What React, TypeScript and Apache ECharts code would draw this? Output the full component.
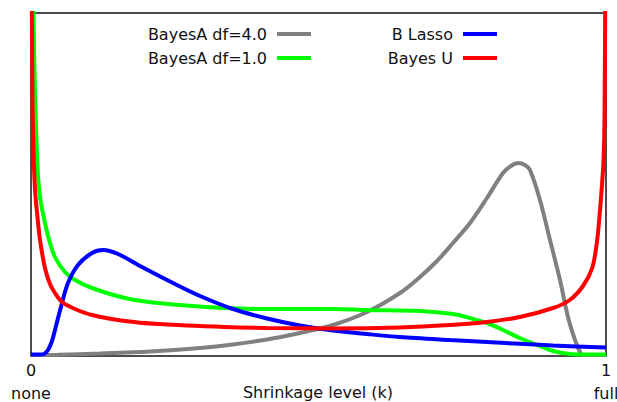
import React, { useEffect, useRef } from 'react';
import * as echarts from 'echarts';

const FONT = "'DejaVu Sans', Verdana, Tahoma, sans-serif";

// x: shrinkage level k (0 = none, 1 = full); y: relative density (arbitrary units)
const seriesNames = ['BayesA df=4.0', 'BayesA df=1.0', 'B Lasso', 'Bayes U'];
const xTickLabels = ['0\nnone', '1\nfull'];
const xAxisName = 'Shrinkage level (k)';

const bayesA4K = [0, 0.047, 0.12, 0.207, 0.294, 0.3513, 0.4104, 0.4678, 0.5252, 0.5843, 0.6417, 0.6765, 0.7061, 0.7339, 0.7635, 0.793, 0.8209, 0.8348, 0.847, 0.8591, 0.8678, 0.8852, 0.9026, 0.92, 0.9339, 0.9461, 0.9548, 0.96, 1];
const bayesA4V = [1, 1.3, 2.5, 4.5, 8, 11.5, 16.5, 23, 31, 44, 63, 79, 95, 113, 133, 158, 183, 190, 193, 191, 186, 156, 116, 76, 39, 16, 4, 1, 1];

const bayesA1K = [0.0026, 0.0043, 0.0061, 0.0078, 0.0101, 0.0127, 0.0165, 0.0214, 0.0301, 0.0417, 0.0591, 0.0765, 0.106, 0.1635, 0.221, 0.337, 0.41, 0.525, 0.584, 0.677, 0.734, 0.763, 0.793, 0.821, 0.85, 0.88, 0.908, 0.937, 0.963, 1];
const bayesA1V = [406, 343, 286, 246, 206, 176, 156, 141, 119, 99, 84, 76, 68, 58, 53, 48, 47, 47, 46, 45, 42, 38, 33, 26, 18, 11, 5, 2, 1.5, 1.5];

const lassoK = [0, 0.0157, 0.0226, 0.0296, 0.0365, 0.0417, 0.0539, 0.0643, 0.0817, 0.106, 0.1252, 0.1513, 0.193, 0.2504, 0.2939, 0.3513, 0.4104, 0.4678, 0.5252, 0.5843, 0.6417, 0.7287, 0.793, 0.9078, 1];
const lassoV = [1.5, 1.5, 2, 6, 15, 26, 53, 73, 91, 103, 106, 102, 89, 72, 60, 47, 37.5, 30.5, 25.5, 22, 19, 16, 14, 10.5, 8.5];

const bayesUK = [0.0009, 0.0026, 0.0043, 0.007, 0.0104, 0.0157, 0.0243, 0.033, 0.0417, 0.0539, 0.0765, 0.106, 0.1635, 0.221, 0.337, 0.41, 0.525, 0.642, 0.729, 0.793, 0.85, 0.908, 0.937, 0.96, 0.976, 0.9843, 0.9896, 0.993, 0.9957, 0.9974, 0.9991];
const bayesUV = [406, 256, 206, 166, 144, 116, 88, 72, 63, 54, 47, 41, 35, 32, 29, 28, 27.5, 28.5, 31, 34, 39, 48, 56, 70, 88, 114, 146, 171, 196, 236, 406];

const colors = ['#808080', '#00ff00', '#0000ff', '#ff0000'];

const pairs = (ks: number[], vs: number[]) => ks.map((k, i) => [k, vs[i]]);

export default function App() {
  const ref = useRef<HTMLDivElement>(null);
  useEffect(() => {
    const chart = echarts.init(ref.current!, null, { renderer: 'svg' });
    const dataSets = [
      pairs(bayesA4K, bayesA4V),
      pairs(bayesA1K, bayesA1V),
      pairs(lassoK, lassoV),
      pairs(bayesUK, bayesUV),
    ];
    const legendText = {
      fontFamily: FONT,
      fontSize: 16,
      color: '#111',
      lineHeight: 20,
      padding: [0, 5, 0, 0],
    };
    chart.setOption({
      animation: false,
      textStyle: { fontFamily: FONT },
      grid: {
        left: 31,
        right: 11,
        top: 13,
        bottom: 46,
        show: true,
        borderColor: '#111',
        borderWidth: 1.5,
        backgroundColor: '#fff',
        containLabel: false,
        outerBoundsMode: 'none',
      },
      legend: [
        {
          data: [seriesNames[0], seriesNames[1]],
          orient: 'vertical',
          align: 'right',
          right: 306,
          top: 24,
          padding: 0,
          itemGap: 4,
          itemWidth: 34,
          itemHeight: 4,
          icon: 'rect',
          textStyle: legendText,
        },
        {
          data: [seriesNames[2], seriesNames[3]],
          orient: 'vertical',
          align: 'right',
          right: 120,
          top: 24,
          padding: 0,
          itemGap: 4,
          itemWidth: 34,
          itemHeight: 4,
          icon: 'rect',
          textStyle: legendText,
        },
      ],
      graphic: [
        {
          type: 'text',
          x: 318,
          y: 392,
          style: {
            text: xAxisName,
            fontFamily: FONT,
            fontSize: 16,
            fill: '#111',
            align: 'center',
            verticalAlign: 'middle',
          },
        },
      ],
      xAxis: {
        type: 'value',
        min: 0,
        max: 1,
        interval: 1,
        axisLine: { show: false },
        axisTick: { show: false },
        splitLine: { show: false },
        axisLabel: {
          margin: 3,
          fontFamily: FONT,
          fontSize: 16,
          color: '#111',
          lineHeight: 23,
          formatter: (v: number) => (v === 0 ? xTickLabels[0] : xTickLabels[1]),
        },
      },
      yAxis: {
        type: 'value',
        min: 0,
        max: 343,
        show: false,
        splitLine: { show: false },
      },
      series: seriesNames.map((name, i) => ({
        name,
        type: 'line',
        data: dataSets[i],
        showSymbol: false,
        smooth: 0.3,
        clip: true,
        color: colors[i],
        lineStyle: { width: 4, color: colors[i] },
        z: 2 + i,
      })),
    });
    return () => chart.dispose();
  }, []);
  return (
    <div
      ref={ref}
      style={{ position: 'absolute', left: 0, top: 0, width: 617, height: 402 }}
    />
  );
}
